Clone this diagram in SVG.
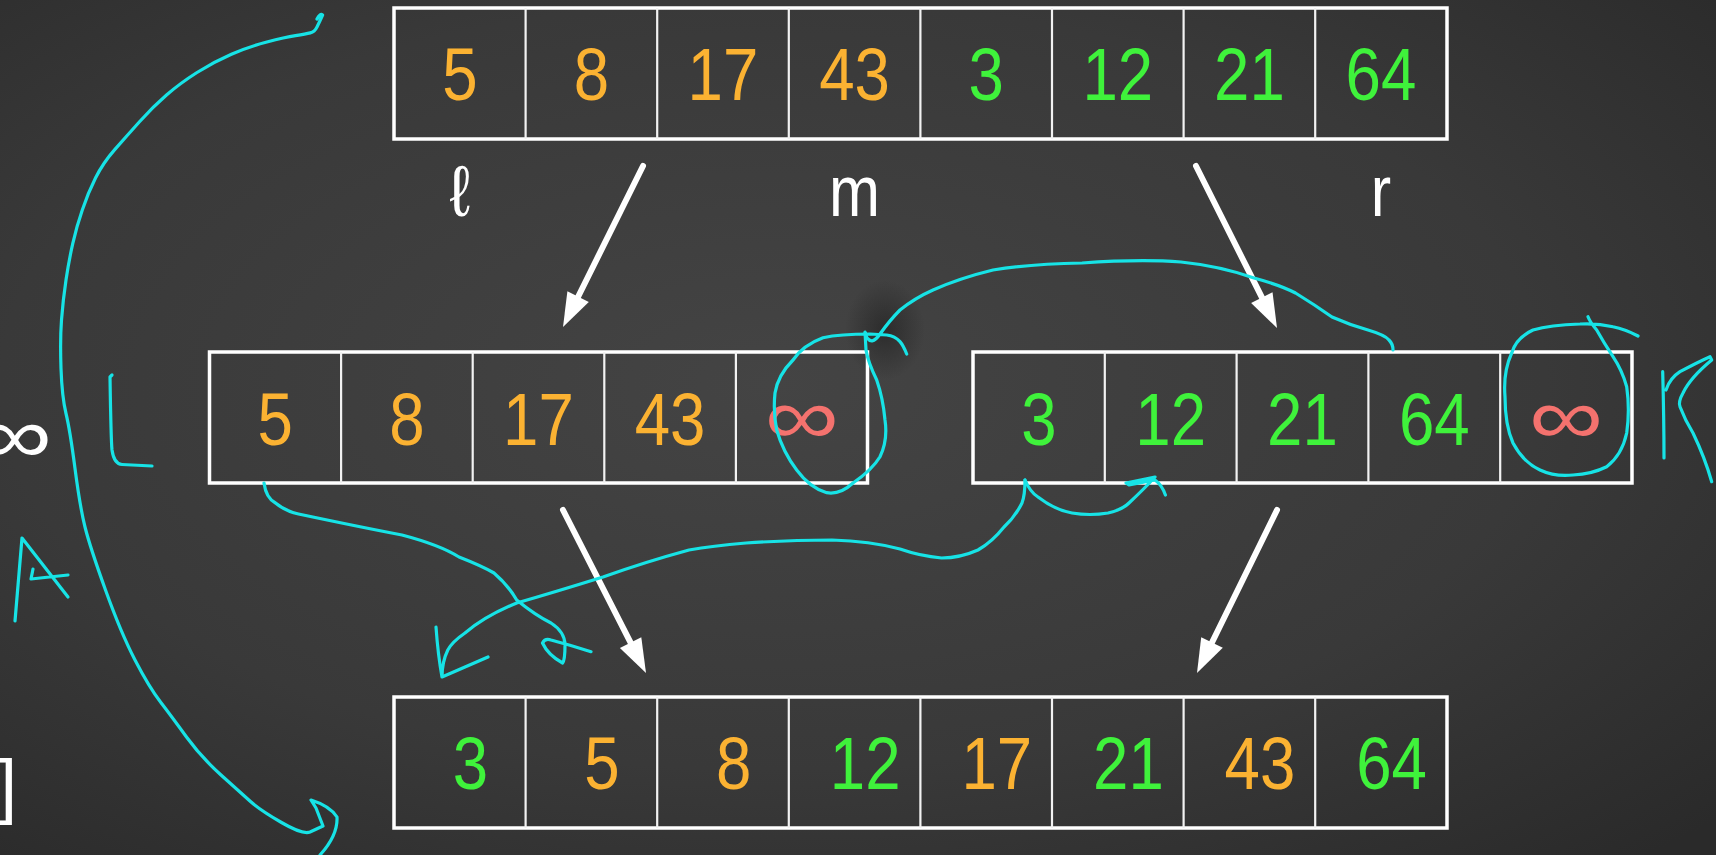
<svg xmlns="http://www.w3.org/2000/svg" width="1716" height="855" viewBox="0 0 1716 855">
<defs>
<radialGradient id="bg" cx="45%" cy="45%" r="75%">
<stop offset="0" stop-color="#444444"/>
<stop offset="0.6" stop-color="#393939"/>
<stop offset="1" stop-color="#2a2a2a"/>
</radialGradient>
<radialGradient id="smudge">
<stop offset="0" stop-color="#1a1a1a" stop-opacity="0.55"/>
<stop offset="1" stop-color="#1a1a1a" stop-opacity="0"/>
</radialGradient>
<style>
.box{fill:none;stroke:#ffffff;stroke-width:3.5}
.div{stroke:#f2f2f2;stroke-width:2.2}
.num{font-family:"Liberation Sans Narrow","Liberation Sans",sans-serif;font-size:74px;text-anchor:middle}
.o{fill:#fbb232}
.g{fill:#3ff23b}
.inf{font-family:"Liberation Sans","DejaVu Sans",sans-serif;font-size:80px;text-anchor:middle;fill:#f4726e}
.lab{font-family:"Liberation Sans",sans-serif;font-size:72px;text-anchor:middle;fill:#ffffff}
.arr{stroke:#ffffff;stroke-width:6;stroke-linecap:round;fill:none}
.head{fill:#ffffff}
.cy{fill:none;stroke:#17e3e6;stroke-width:3.2;stroke-linecap:round;stroke-linejoin:round}
</style>
</defs>
<rect x="0" y="0" width="1716" height="855" fill="url(#bg)"/>
<ellipse cx="885" cy="330" rx="40" ry="50" fill="url(#smudge)"/>

<g id="top-array">
<rect class="box" x="394" y="8" width="1053" height="131"/>
<path class="div" d="M525.6,8V139M657.2,8V139M788.8,8V139M920.4,8V139M1052,8V139M1183.6,8V139M1315.2,8V139"/>
<text class="num o" transform="translate(460,100) scale(0.86,1)">5</text>
<text class="num o" transform="translate(591.4,100) scale(0.86,1)">8</text>
<text class="num o" transform="translate(723,100) scale(0.86,1)">17</text>
<text class="num o" transform="translate(854.6,100) scale(0.86,1)">43</text>
<text class="num g" transform="translate(986.2,100) scale(0.86,1)">3</text>
<text class="num g" transform="translate(1117.8,100) scale(0.86,1)">12</text>
<text class="num g" transform="translate(1249.4,100) scale(0.86,1)">21</text>
<text class="num g" transform="translate(1381,100) scale(0.86,1)">64</text>
</g>

<g id="pointer-labels">
<text class="lab" transform="translate(460,216) scale(0.9,1)">ℓ</text>
<text class="lab" transform="translate(854.6,216) scale(0.85,1)">m</text>
<text class="lab" transform="translate(1381,216) scale(0.85,1)">r</text>
</g>

<g id="left-array">
<rect class="box" x="209.5" y="352" width="658" height="131"/>
<path class="div" d="M341.1,352V483M472.7,352V483M604.3,352V483M735.9,352V483"/>
<text class="num o" transform="translate(275.3,445) scale(0.86,1)">5</text>
<text class="num o" transform="translate(406.9,445) scale(0.86,1)">8</text>
<text class="num o" transform="translate(538.5,445) scale(0.86,1)">17</text>
<text class="num o" transform="translate(670.1,445) scale(0.86,1)">43</text>
<text class="inf" transform="translate(801.7,444) scale(1.3,1)">∞</text>
</g>

<g id="right-array">
<rect class="box" x="973" y="352" width="659" height="131"/>
<path class="div" d="M1104.8,352V483M1236.6,352V483M1368.4,352V483M1500.2,352V483"/>
<text class="num g" transform="translate(1038.9,445) scale(0.86,1)">3</text>
<text class="num g" transform="translate(1170.7,445) scale(0.86,1)">12</text>
<text class="num g" transform="translate(1302.5,445) scale(0.86,1)">21</text>
<text class="num g" transform="translate(1434.3,445) scale(0.86,1)">64</text>
<text class="inf" transform="translate(1566.1,444) scale(1.3,1)">∞</text>
</g>

<g id="bottom-array">
<rect class="box" x="394" y="697" width="1053" height="131"/>
<path class="div" d="M525.6,697V828M657.2,697V828M788.8,697V828M920.4,697V828M1052,697V828M1183.6,697V828M1315.2,697V828"/>
<text class="num g" transform="translate(470.5,789) scale(0.86,1)">3</text>
<text class="num o" transform="translate(602,789) scale(0.86,1)">5</text>
<text class="num o" transform="translate(733.6,789) scale(0.86,1)">8</text>
<text class="num g" transform="translate(865.2,789) scale(0.86,1)">12</text>
<text class="num o" transform="translate(996.8,789) scale(0.86,1)">17</text>
<text class="num g" transform="translate(1128.4,789) scale(0.86,1)">21</text>
<text class="num o" transform="translate(1260,789) scale(0.86,1)">43</text>
<text class="num g" transform="translate(1391.6,789) scale(0.86,1)">64</text>
</g>

<g id="edge-fragments">
<text transform="translate(52,463) scale(1.3,1)" font-family="Liberation Sans, DejaVu Sans, sans-serif" font-size="80" text-anchor="end" fill="#ffffff">∞</text>
<text x="17" y="810" font-family="Liberation Sans, sans-serif" font-size="72" text-anchor="end" fill="#ffffff">]</text>
</g>

<g id="connectors">
<line class="arr" x1="643" y1="166" x2="578" y2="297"/>
<polygon class="head" points="563,327 588.8,301.9 567.4,291.3"/>
<line class="arr" x1="1196" y1="166" x2="1262" y2="297.6"/>
<polygon class="head" points="1277,328 1272.5,292.2 1251.1,303"/>
<line class="arr" x1="563" y1="510" x2="630.6" y2="642.7"/>
<polygon class="head" points="646,673 641.3,637.3 619.9,648.1"/>
<line class="arr" x1="1277" y1="510" x2="1212" y2="642.5"/>
<polygon class="head" points="1197,673 1222.8,647.8 1201.2,637.2"/>
</g>

<g id="annotations">
<path class="cy" d="M317,19 Q320,13 322.6,15 Q319.5,22 317,26.9 Q314.6,31.7 310.3,32.9 Q306,34 295.5,35.7 Q285,37.3 266.9,42 Q248.8,46.7 231.4,54.2 Q214,61.7 197,72.5 Q180,83.3 166.5,95 Q153,106.7 139.5,121.7 Q126,136.7 114.5,149.9 Q103,163 95.5,178 Q88,193 82.3,209.9 Q76.5,226.7 72.8,243.4 Q69,260 66,280 Q63,300 61.5,320 Q60,340 61,368.5 Q62,397 66,413.5 Q70,430 75,468.5 Q80,507 85,527 Q90,547 105.5,590 Q121,633 135,660 Q149,687 160.5,702 Q172,717 186.5,737 Q201,757 221,775 Q241,793 250.5,801.5 Q260,810 281.5,822.5 Q303,835 310,832 L323,826 L316,808 L311,800 Q330,806 337,817 Q338,835 320,855"/>
<path class="cy" d="M112,375 L110,377 Q111,440 112,450 Q114,464 122,464.5 L152,466"/>
<path class="cy" d="M15,621 L22,538 L68,597 M33,569 L31,579 L68,575"/>
<path class="cy" d="M906.7,354 Q903,345 900,341.7 Q895,336 886.7,335 L870,334 Q840,334 823,337.7 Q803,345 793,360 Q778,375 775,393 Q773,412 776.7,430 Q783,452 796.7,470 Q810,488 826.7,492.7 Q840,495 853,483 Q872,470 880,456.7 Q888,440 885,420 Q883,398 876.7,380 Q868,362 866,350 L865,332 Q866,340 872,341 Q876,340 880,334 Q890,320 900,310 Q915,298 933,290 Q960,278 993,270 Q1030,264 1082,263 Q1140,259 1181,262 Q1220,266 1254,278 Q1280,285 1295.5,293 Q1315,305 1332,317 Q1350,325 1368,330 Q1385,335 1389,340 Q1393,344 1393,350"/>
<path class="cy" d="M1638,336 Q1625,329 1613,326.7 Q1597,323 1580,324 Q1550,325 1533,330 Q1516,338 1511.7,353 Q1503,372 1505,396.7 Q1505,425 1513,443 Q1523,462 1540,470 Q1555,477 1573,475 Q1592,474 1606.7,466.7 Q1622,455 1626.7,433 Q1630,410 1626.7,386.7 Q1622,370 1613,356.7 Q1604,343 1596.7,330 Q1590,322 1588,316.7"/>
<path class="cy" d="M1662.7,371.7 Q1664,420 1664,458 M1666,390 Q1670,378 1680,371.7 Q1698,362 1710,356.7 L1711.7,360 Q1690,378 1683,393 Q1678,402 1680,406.7 Q1685,420 1693,433 Q1705,458 1711.7,481.7"/>
<path class="cy" d="M264,483 Q266,498 275.5,503 Q285,511 298.5,514 Q360,527 402,535 Q440,545 459,557 Q482,566 494,573 Q508,585 516.7,600 Q535,615 551,623 Q565,632 565,645 Q565,660 562.6,663 Q548,655 542.5,643 Q545,638 551,640 Q570,645 591,651.7"/>
<path class="cy" d="M1025,480 Q1030,492 1038,497 Q1055,510 1072,513 Q1090,516 1108,513 Q1122,510 1129,503 Q1145,488 1155,477 L1126,483 L1129,485 L1155,480 Q1162,485 1165.4,495"/>
<path class="cy" d="M1025,480 Q1025,495 1022,503 Q1015,517 1004,527 Q992,542 978,550 Q960,558 941.6,558 Q920,556 900,549 Q870,541 832,540 Q790,540 746,543 Q712,546 689,550 Q645,562 603,577 Q555,592 516.7,603 Q485,616 465,633 Q452,642 447.8,650 Q442,662 442,677 M436,627 Q438,655 442,677 L488,657"/>
</g>
</svg>
